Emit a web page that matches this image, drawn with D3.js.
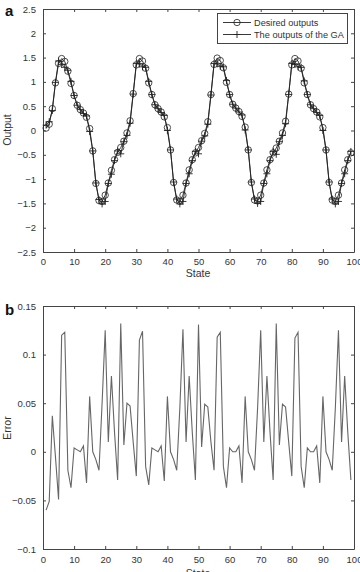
<!DOCTYPE html>
<html>
<head>
<meta charset="utf-8">
<script src="https://cdn.jsdelivr.net/npm/d3@7"></script>
<style>
  body { margin: 0; background: #fff; }
  svg { display: block; font-family: "Liberation Sans", Arial, sans-serif; }
  .axis text { fill: #333; font-size: 9.5px; }
  .axis path, .axis line { stroke: #444; }
</style>
</head>
<body>
<svg width="360" height="572"></svg>
<script>
// states 1..99
var states = d3.range(1, 100);

var desired = [
  0.05, 0.13, 0.45, 0.98, 1.38, 1.48, 1.42, 1.22, 0.97, 0.72, 0.52, 0.43, 0.36, 0.27, 0.04, -0.42, -1.09, -1.44, -1.46, -1.33, -1.08, -0.82, -0.60, -0.45, -0.35,
  -0.22, -0.05, 0.20, 0.76, 1.35, 1.48, 1.43, 1.28, 0.98, 0.74, 0.53, 0.45, 0.38, 0.28, 0.06, -0.40, -1.07, -1.43, -1.46, -1.33, -1.08, -0.81, -0.60, -0.46, -0.35,
  -0.21, -0.06, 0.18, 0.74, 1.36, 1.49, 1.44, 1.29, 0.99, 0.74, 0.54, 0.46, 0.39, 0.29, 0.07, -0.40, -1.07, -1.43, -1.45, -1.33, -1.08, -0.81, -0.60, -0.46, -0.36,
  -0.22, -0.05, 0.19, 0.75, 1.35, 1.48, 1.43, 1.28, 0.98, 0.74, 0.53, 0.45, 0.38, 0.28, 0.06, -0.40, -1.07, -1.43, -1.46, -1.33, -1.08, -0.81, -0.60, -0.46
];

var gaOutput = [
  0.11, 0.18, 0.41, 0.99, 1.43, 1.36, 1.30, 1.24, 1.01, 0.72, 0.52, 0.43, 0.35, 0.30, -0.02, -0.42, -1.08, -1.42, -1.51, -1.46, -1.09, -0.90, -0.62, -0.42, -0.48,
  -0.23, -0.10, 0.15, 0.75, 1.38, 1.37, 1.31, 1.30, 1.01, 0.74, 0.53, 0.45, 0.37, 0.31, 0.00, -0.40, -1.06, -1.41, -1.51, -1.46, -1.09, -0.89, -0.62, -0.43, -0.48,
  -0.22, -0.11, 0.13, 0.73, 1.38, 1.37, 1.32, 1.31, 1.03, 0.74, 0.54, 0.46, 0.38, 0.32, 0.01, -0.40, -1.06, -1.41, -1.50, -1.46, -1.09, -0.89, -0.62, -0.43, -0.49,
  -0.23, -0.10, 0.14, 0.74, 1.38, 1.36, 1.31, 1.30, 1.02, 0.74, 0.53, 0.45, 0.37, 0.31, 0.00, -0.40, -1.06, -1.41, -1.51, -1.46, -1.09, -0.89, -0.62, -0.43
];

var errors = [
  -0.060, -0.051, 0.037, -0.005, -0.049, 0.120, 0.123, -0.019, -0.037, 0.004, 0.002, 0.000, 0.006, -0.032, 0.057, 0.000, -0.008, -0.019, 0.050, 0.125, 0.010, 0.078, 0.020, -0.029, 0.132,
  0.007, 0.050, 0.047, 0.010, -0.025, 0.115, 0.124, -0.015, -0.034, 0.004, 0.002, 0.000, 0.006, -0.030, 0.057, 0.000, -0.008, -0.019, 0.045, 0.126, 0.010, 0.078, 0.020, -0.029, 0.131,
  0.005, 0.049, 0.046, 0.010, -0.019, 0.118, 0.123, -0.015, -0.037, 0.004, 0.000, 0.000, 0.006, -0.032, 0.057, 0.000, -0.008, -0.019, 0.045, 0.125, 0.010, 0.078, 0.020, -0.029, 0.132,
  0.007, 0.049, 0.046, 0.010, -0.025, 0.117, 0.123, -0.015, -0.037, 0.004, 0.000, 0.000, 0.006, -0.032, 0.057, 0.000, -0.008, -0.019, 0.045, 0.125, 0.010, 0.078, 0.020, -0.029
];

var xTicks = d3.range(0, 101, 10);
var outTicks = [-2.5, -2, -1.5, -1, -0.5, 0, 0.5, 1, 1.5, 2, 2.5];
var errTicks = [-0.1, -0.05, 0, 0.05, 0.1, 0.15];
var legendLabels = ["Desired outputs", "The outputs of the GA"];

var svg = d3.select("svg");
var left = 43, right = 354;

// draws box axes MATLAB style, returns the scales
function panel(top, bottom, yDomain, yTicks, xPad) {
  var x = d3.scaleLinear().domain([0, 100]).range([left, right]);
  var y = d3.scaleLinear().domain(yDomain).range([bottom, top]);
  var fmt = function(d) { return d3.format("")(+d.toFixed(2)); };

  svg.append("g").attr("class", "axis")
      .attr("transform", "translate(0," + bottom + ")")
      .call(d3.axisBottom(x).tickValues(xTicks).tickSize(-3).tickSizeOuter(0).tickPadding(xPad));
  svg.append("g").attr("class", "axis")
      .attr("transform", "translate(0," + top + ")")
      .call(d3.axisTop(x).tickValues(xTicks).tickSize(-3).tickSizeOuter(0).tickFormat(""));
  svg.append("g").attr("class", "axis")
      .attr("transform", "translate(" + left + ",0)")
      .call(d3.axisLeft(y).tickValues(yTicks).tickSize(-3).tickSizeOuter(0).tickPadding(7).tickFormat(fmt));
  svg.append("g").attr("class", "axis")
      .attr("transform", "translate(" + right + ",0)")
      .call(d3.axisRight(y).tickValues(yTicks).tickSize(-3).tickSizeOuter(0).tickFormat(""));
  svg.selectAll(".axis text").attr("font-family", null);
  return {x: x, y: y};
}

// ---- panel a
var a = panel(9, 252, [-2.5, 2.5], outTicks, 6);

var lineA = d3.line()
    .x(function(d, i) { return a.x(states[i]); })
    .y(function(d) { return a.y(d); });

svg.append("path").datum(desired)
    .attr("d", lineA).attr("fill", "none").attr("stroke", "#222").attr("stroke-width", 0.9);
svg.append("path").datum(gaOutput)
    .attr("d", lineA).attr("fill", "none").attr("stroke", "#222").attr("stroke-width", 0.9);

svg.append("g").selectAll("circle")
    .data(desired)
  .enter().append("circle")
    .attr("cx", function(d, i) { return a.x(states[i]); })
    .attr("cy", function(d) { return a.y(d); })
    .attr("r", 3.2)
    .attr("fill", "none").attr("stroke", "#222").attr("stroke-width", 0.8);

var plus = "M-3.5,0H3.5M0,-3.5V3.5";
svg.append("g").selectAll("path")
    .data(gaOutput)
  .enter().append("path")
    .attr("transform", function(d, i) { return "translate(" + a.x(states[i]) + "," + a.y(d) + ")"; })
    .attr("d", plus)
    .attr("stroke", "#222").attr("stroke-width", 0.9);

// legend
var lg = svg.append("g");
lg.append("rect")
    .attr("x", 217.5).attr("y", 13.5).attr("width", 130).attr("height", 30)
    .attr("fill", "#fff").attr("stroke", "#444").attr("stroke-width", 1);
legendLabels.forEach(function(t, i) {
  var ly = 22.5 + i * 12;
  lg.append("line").attr("x1", 223).attr("x2", 251).attr("y1", ly).attr("y2", ly)
      .attr("stroke", "#222").attr("stroke-width", 0.9);
  if (i === 0) {
    lg.append("circle").attr("cx", 237).attr("cy", ly).attr("r", 3.2)
        .attr("fill", "none").attr("stroke", "#222").attr("stroke-width", 0.8);
  } else {
    lg.append("path").attr("transform", "translate(237," + ly + ")").attr("d", plus)
        .attr("stroke", "#222").attr("stroke-width", 0.9);
  }
  lg.append("text").attr("x", 254).attr("y", ly).attr("dy", "0.35em")
      .attr("fill", "#333").style("font-size", "9.2px").text(t);
});

svg.append("text").attr("transform", "translate(11,130) rotate(-90)")
    .attr("text-anchor", "middle").attr("fill", "#333").style("font-size", "10.5px").text("Output");
svg.append("text").attr("x", 198).attr("y", 277)
    .attr("text-anchor", "middle").attr("fill", "#333").style("font-size", "10.5px").text("State");
svg.append("text").attr("x", 5).attr("y", 16)
    .attr("font-weight", "bold").attr("fill", "#111").style("font-size", "15px").text("a");

// ---- panel b
var b = panel(306, 549, [-0.1, 0.15], errTicks, 7);

var lineB = d3.line()
    .x(function(d, i) { return b.x(states[i]); })
    .y(function(d) { return b.y(d); });

svg.append("path").datum(errors)
    .attr("d", lineB).attr("fill", "none").attr("stroke", "#666").attr("stroke-width", 1.1);

svg.append("text").attr("transform", "translate(11,428) rotate(-90)")
    .attr("text-anchor", "middle").attr("fill", "#333").style("font-size", "10.5px").text("Error");
svg.append("text").attr("x", 198).attr("y", 577)
    .attr("text-anchor", "middle").attr("fill", "#333").style("font-size", "10.5px").text("State");
svg.append("text").attr("x", 5).attr("y", 315)
    .attr("font-weight", "bold").attr("fill", "#111").style("font-size", "15px").text("b");
</script>
</body>
</html>
